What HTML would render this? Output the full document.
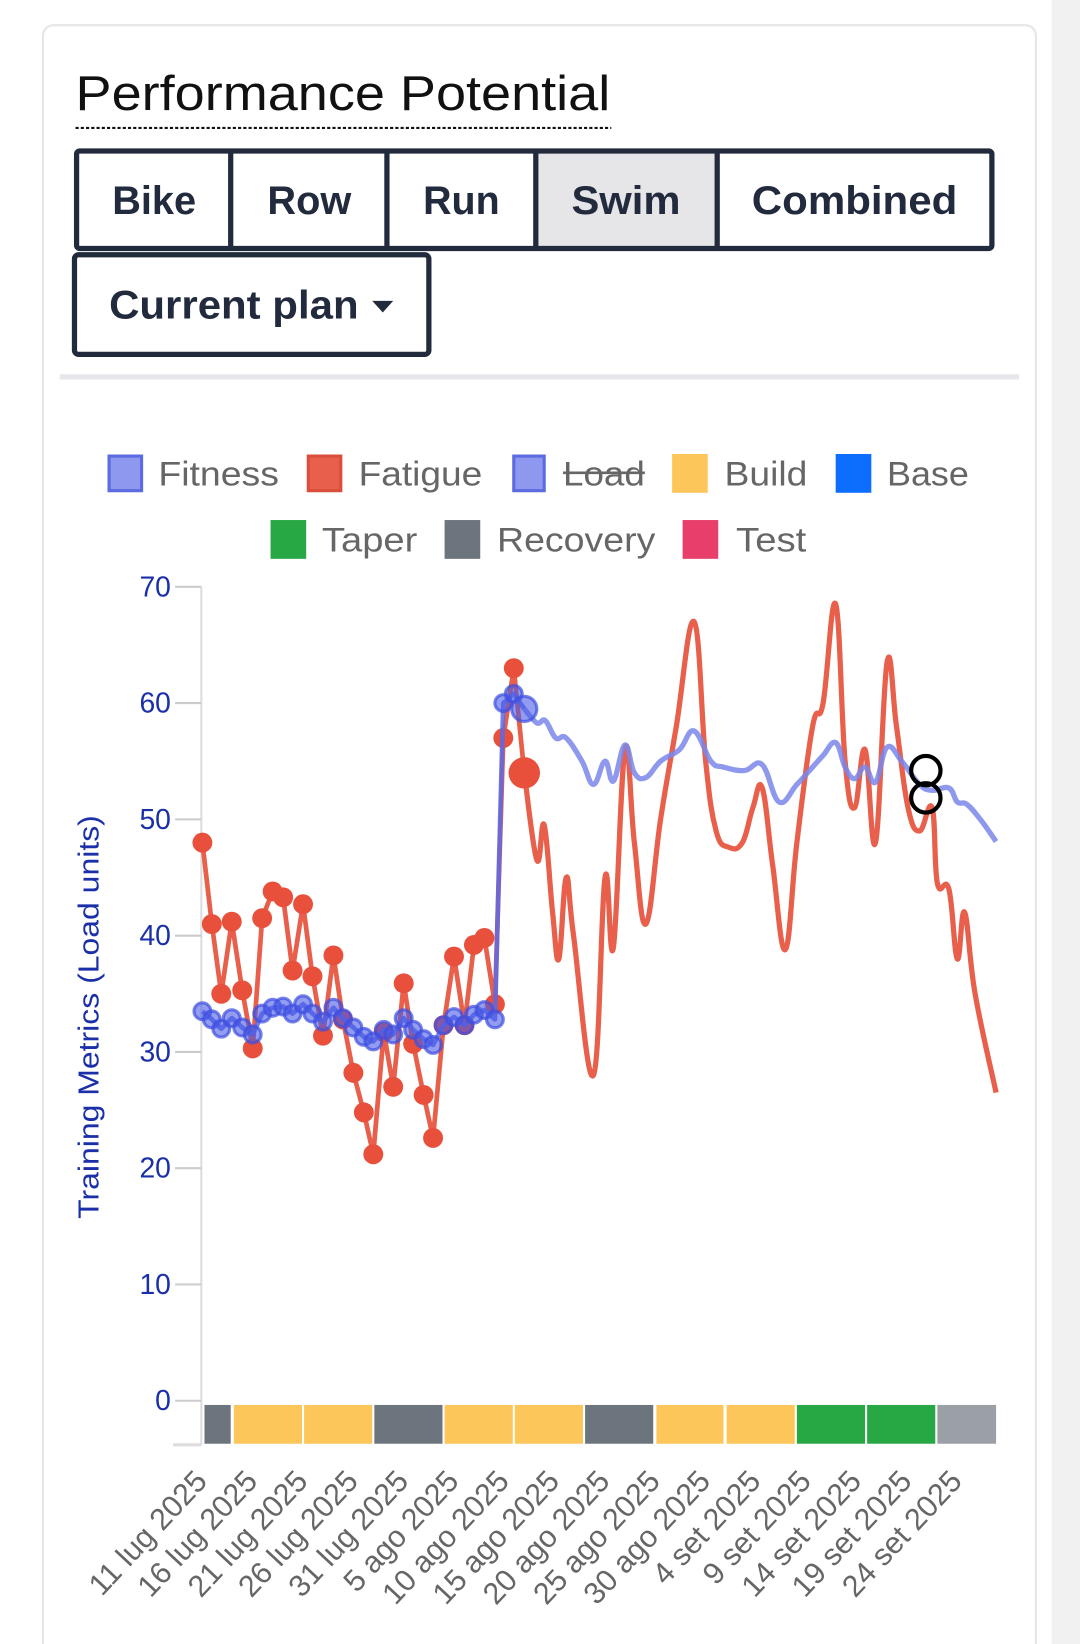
<!DOCTYPE html>
<html><head><meta charset="utf-8"><style>
html,body{margin:0;padding:0;background:#fff;}
svg{display:block;font-family:"Liberation Sans",sans-serif;}
</style></head><body>
<svg id="s" width="1080" height="1644" viewBox="0 0 1030 1568" xmlns="http://www.w3.org/2000/svg">
<rect x="0" y="0" width="1030" height="1568" fill="#fff"/>
<rect x="1003" y="0" width="27" height="1568" fill="#f1f1f2"/>
<rect x="41" y="24" width="947" height="1560" rx="10" fill="#fff" stroke="#e6e6e6" stroke-width="2"/>
<text x="72" y="105" font-size="47" fill="#111" textLength="510" lengthAdjust="spacingAndGlyphs">Performance Potential</text>
<line x1="72" y1="122" x2="583" y2="122" stroke="#111" stroke-width="2" stroke-dasharray="3,2"/>
<rect x="512" y="145" width="171" height="92" fill="#e6e6e8"/>
<g fill="none" stroke="#222a3d" stroke-width="5">
<rect x="73" y="144" width="873" height="93" rx="3"/>
<line x1="220" y1="144" x2="220" y2="237"/><line x1="369" y1="144" x2="369" y2="237"/>
<line x1="511" y1="144" x2="511" y2="237"/><line x1="684" y1="144" x2="684" y2="237"/>
<rect x="71" y="243" width="338" height="95" rx="4"/>
</g>
<g font-size="38" font-weight="bold" fill="#222a3d" text-anchor="middle">
<text x="147" y="204" textLength="80" lengthAdjust="spacingAndGlyphs">Bike</text>
<text x="295" y="204" textLength="80" lengthAdjust="spacingAndGlyphs">Row</text>
<text x="440" y="204" textLength="73" lengthAdjust="spacingAndGlyphs">Run</text>
<text x="597" y="204" textLength="104" lengthAdjust="spacingAndGlyphs">Swim</text>
<text x="815" y="204" textLength="196" lengthAdjust="spacingAndGlyphs">Combined</text>
<text x="104" y="304" text-anchor="start" textLength="238" lengthAdjust="spacingAndGlyphs">Current plan</text>
</g>
<path d="M355 287 L375 287 L365 298 Z" fill="#222a3d"/>
<rect x="57" y="357" width="915" height="5" fill="#e5e7eb"/>
<g font-size="33" fill="#666">
<rect x="104" y="435" width="31" height="33" fill="#8d98ee" stroke="#5c6bdf" stroke-width="3"/><text x="151" y="463" textLength="115" lengthAdjust="spacingAndGlyphs">Fitness</text>
<rect x="294" y="435" width="31" height="33" fill="#e8604c" stroke="#d94f3c" stroke-width="3"/><text x="342" y="463" textLength="118" lengthAdjust="spacingAndGlyphs">Fatigue</text>
<rect x="490" y="435" width="29" height="33" fill="#8d98ee" stroke="#5c6bdf" stroke-width="3"/><text x="537" y="463" textLength="78" lengthAdjust="spacingAndGlyphs">Load</text>
<line x1="537" y1="451" x2="615" y2="451" stroke="#666" stroke-width="2.5"/>
<rect x="641" y="433" width="34" height="37" fill="#fdc65a"/><text x="691" y="463" textLength="79" lengthAdjust="spacingAndGlyphs">Build</text>
<rect x="797" y="433" width="34" height="37" fill="#0d6efd"/><text x="846" y="463" textLength="78" lengthAdjust="spacingAndGlyphs">Base</text>
<rect x="258" y="496" width="34" height="37" fill="#28a745"/><text x="307" y="526" textLength="91" lengthAdjust="spacingAndGlyphs">Taper</text>
<rect x="424" y="496" width="34" height="37" fill="#6c757d"/><text x="474" y="526" textLength="151" lengthAdjust="spacingAndGlyphs">Recovery</text>
<rect x="651" y="496" width="34" height="37" fill="#e83e6c"/><text x="702" y="526" textLength="67" lengthAdjust="spacingAndGlyphs">Test</text>
</g>
<line x1="192" y1="560" x2="192" y2="1378" stroke="#ddd" stroke-width="2"/>
<line x1="165" y1="1378" x2="192" y2="1378" stroke="#ddd" stroke-width="3"/>
<g id="yt" font-size="27" fill="#1a2fa8" text-anchor="end"></g>
<text transform="translate(94,970) rotate(-90)" font-size="27" fill="#1a2fa8" text-anchor="middle" textLength="385" lengthAdjust="spacingAndGlyphs">Training Metrics (Load units)</text>
<g>
<rect x="195" y="1340" width="25" height="37" fill="#6c757d"/>
<rect x="223" y="1340" width="65" height="37" fill="#fdc65a"/>
<rect x="290" y="1340" width="65" height="37" fill="#fdc65a"/>
<rect x="357" y="1340" width="65" height="37" fill="#6c757d"/>
<rect x="424" y="1340" width="65" height="37" fill="#fdc65a"/>
<rect x="491" y="1340" width="65" height="37" fill="#fdc65a"/>
<rect x="558" y="1340" width="65" height="37" fill="#6c757d"/>
<rect x="626" y="1340" width="64" height="37" fill="#fdc65a"/>
<rect x="693" y="1340" width="65" height="37" fill="#fdc65a"/>
<rect x="760" y="1340" width="65" height="37" fill="#28a745"/>
<rect x="827" y="1340" width="65" height="37" fill="#28a745"/>
<rect x="894" y="1340" width="56" height="37" fill="#9aa0a6"/>
</g>
<g id="xt" font-size="29" fill="#666" text-anchor="end"></g>
<g id="data"></g>
<circle cx="883" cy="735" r="14" fill="none" stroke="#000" stroke-width="4"/>
<circle cx="883" cy="761" r="14" fill="none" stroke="#000" stroke-width="4"/>
</svg>
<script>
var NS="http://www.w3.org/2000/svg";
function Y(v){return 1336-v*11.09;}
function el(t,a,p,txt){var e=document.createElementNS(NS,t);for(var k in a)e.setAttribute(k,a[k]);if(txt)e.textContent=txt;p.appendChild(e);return e;}
var yt=document.getElementById('yt');
for(var i=0;i<=7;i++){var y=Y(i*10);el('text',{x:163,y:y+9},yt,String(i*10));el('line',{x1:167,y1:y,x2:192,y2:y,stroke:'#ccc','stroke-width':2},document.getElementById('s'));}
var xt=document.getElementById('xt');
var labs=["11 lug 2025","16 lug 2025","21 lug 2025","26 lug 2025","31 lug 2025","5 ago 2025","10 ago 2025","15 ago 2025","20 ago 2025","25 ago 2025","30 ago 2025","4 set 2025","9 set 2025","14 set 2025","19 set 2025","24 set 2025"];
labs.forEach(function(l,i){var x=199+i*48;el('text',{transform:'translate('+x+',1414) rotate(-47)'},xt,l);});
var d=document.getElementById('data');
var fdots=[[193,48],[202,41],[211,35],[221,41.2],[231,35.3],[241,30.3],[250,41.5],[260,43.8],[270,43.3],[279,37],[289,42.7],[298,36.5],[308,31.4],[318,38.3],[327,32.8],[337,28.2],[347,24.8],[356,21.2],[366,31.7],[375,27],[385,35.9],[394,30.7],[404,26.3],[413,22.6],[423,32.3],[433,38.2],[443,32.3],[452,39.2],[462,39.8],[472,34.1],[480,57],[490,63],[500,54]];
var fline=[[512,46.5],[519,49.5],[527,42],[533,38],[540,45],[547,40],[566,28],[577,45],[585,39],[596,56],[605,48],[616,41],[630,50],[645,58],[662,67],[673,55],[683,49],[695,47.6],[708,48],[718,51],[727,52.7],[737,46],[749,38.8],[760,48],[775,58],[785,60],[797,68.5],[806,55],[815,51],[825,56],[835,48],[846,63.5],[855,58],[866,51],[877,49],[889,51],[894,44.5],[905,44],[913,38],[920,42],[930,35],[950,26.5]];
var wdots=[[193,33.5],[202,32.8],[211,32],[221,32.9],[231,32.1],[241,31.5],[250,33.3],[260,33.8],[270,33.9],[279,33.3],[289,34.1],[298,33.3],[308,32.6],[318,33.8],[327,32.9],[337,32.1],[347,31.3],[356,30.9],[366,31.9],[375,31.5],[385,32.9],[394,31.9],[404,31.1],[413,30.6],[423,32.3],[433,33],[443,32.3],[452,33.2],[462,33.6],[472,32.8],[480,60],[490,60.8],[500,59.5]];
var wline=[[512,58.3],[520,58.5],[530,57],[540,57],[555,55],[566,53],[577,55],[585,53.3],[596,56.4],[605,54],[616,53.6],[630,55],[648,56],[662,57.6],[678,55],[690,54.5],[710,54.2],[727,54.7],[743,51.5],[760,53],[775,54.5],[785,55.5],[797,56.6],[806,54.5],[815,53.5],[825,54.5],[835,53.2],[846,56.2],[860,55],[877,53],[889,52.5],[905,52.7],[913,51.5],[922,51.3],[935,50],[950,48.1]];
function smooth(a){var p=a.map(function(q){return [q[0],Y(q[1])]});var s='M'+p[0][0]+','+p[0][1].toFixed(1);
for(var i=0;i<p.length-1;i++){var p0=p[i-1]||p[i],p1=p[i],p2=p[i+1],p3=p[i+2]||p2;var t=0.2;
s+=' C'+(p1[0]+(p2[0]-p0[0])*t).toFixed(1)+','+(p1[1]+(p2[1]-p0[1])*t).toFixed(1)+' '+(p2[0]-(p3[0]-p1[0])*t).toFixed(1)+','+(p2[1]-(p3[1]-p1[1])*t).toFixed(1)+' '+p2[0]+','+p2[1].toFixed(1);}return s;}
function pts(a){return a.map(function(p){return p[0]+','+Y(p[1]).toFixed(1)}).join(' ');}
el('polyline',{points:pts(fdots),fill:'none',stroke:'#e8604c','stroke-width':4.5,'stroke-linejoin':'round'},d);
el('path',{d:smooth(fdots.slice(32).concat(fline)),fill:'none',stroke:'#e8604c','stroke-width':5,'stroke-linejoin':'round'},d);
fdots.forEach(function(p,i){el('circle',{cx:p[0],cy:Y(p[1]),r:i==32?15:9.5,fill:'#e8503c'},d);});
el('polyline',{points:pts(wdots),fill:'none',stroke:'#5a68e6','stroke-opacity':0.85,'stroke-width':4.5,'stroke-linejoin':'round'},d);
el('path',{d:smooth(wdots.slice(32).concat(wline)),fill:'none',stroke:'#7a86ea','stroke-opacity':0.85,'stroke-width':5,'stroke-linejoin':'round'},d);
wdots.forEach(function(p,i){el('circle',{cx:p[0],cy:Y(p[1]),r:i==32?12:8,fill:'#4a5ae6','fill-opacity':0.6,stroke:'#3d4fe0','stroke-opacity':0.7,'stroke-width':3},d);});
</script>
</body></html>
